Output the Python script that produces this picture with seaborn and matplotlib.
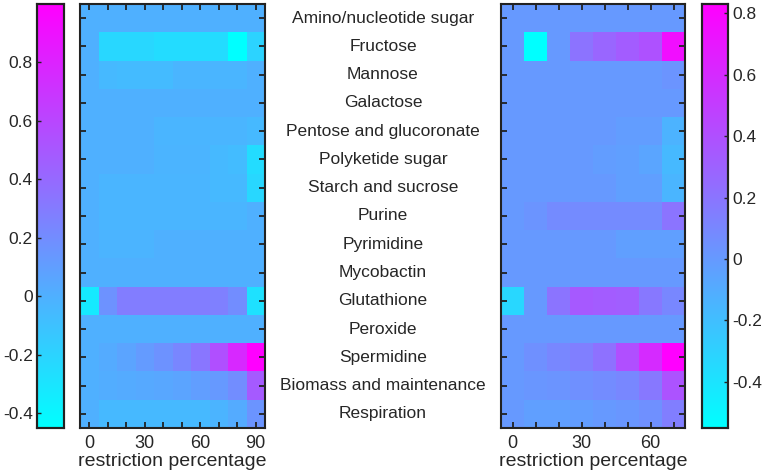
import numpy as np
import pandas as pd
import matplotlib
matplotlib.use("Agg")
import matplotlib.pyplot as plt
import matplotlib.transforms as mtransforms
import seaborn as sns

# --- Data ---
pathways = ["Amino/nucleotide sugar", "Fructose", "Mannose", "Galactose",
            "Pentose and glucoronate", "Polyketide sugar", "Starch and sucrose",
            "Purine", "Pyrimidine", "Mycobactin", "Glutathione", "Peroxide",
            "Spermidine", "Biomass and maintenance", "Respiration"]

left_pct = [0, 10, 20, 30, 40, 50, 60, 70, 80, 90]
right_pct = [0, 10, 20, 30, 40, 50, 60, 70]

left_values = [
    [0.00, 0.00, 0.00, 0.00, 0.00, 0.00, 0.00, 0.00, 0.00, 0.00],
    [0.00, -0.22, -0.22, -0.22, -0.25, -0.25, -0.25, -0.25, -0.45, -0.20],
    [0.00, -0.05, -0.06, -0.06, -0.06, -0.03, -0.03, -0.03, -0.03, 0.00],
    [0.00, 0.00, 0.00, 0.00, 0.00, 0.00, 0.00, 0.00, 0.00, 0.00],
    [0.00, 0.00, 0.00, 0.00, -0.03, -0.03, -0.03, -0.03, -0.03, -0.05],
    [0.00, 0.00, 0.00, 0.00, -0.02, -0.02, -0.02, -0.05, -0.07, -0.25],
    [0.00, -0.03, -0.03, -0.03, -0.03, -0.03, -0.03, -0.05, -0.05, -0.22],
    [0.00, -0.03, -0.03, -0.03, -0.03, -0.03, -0.03, -0.03, -0.03, 0.00],
    [0.00, -0.02, -0.02, -0.02, 0.00, 0.00, 0.00, 0.00, 0.00, 0.00],
    [0.00, 0.00, 0.00, 0.00, 0.00, 0.00, 0.00, 0.00, 0.00, 0.00],
    [-0.33, 0.17, 0.29, 0.29, 0.29, 0.29, 0.29, 0.27, 0.20, -0.28],
    [0.00, 0.00, 0.00, 0.00, 0.00, 0.00, 0.00, 0.00, 0.00, 0.00],
    [0.00, 0.03, 0.07, 0.12, 0.17, 0.24, 0.33, 0.55, 0.77, 1.00],
    [0.00, 0.02, 0.03, 0.04, 0.05, 0.07, 0.10, 0.13, 0.20, 0.49],
    [0.00, -0.05, -0.05, -0.05, -0.05, -0.05, -0.05, -0.02, 0.03, 0.16],
]

right_values = [
    [0.00, 0.00, 0.00, 0.00, 0.00, 0.00, 0.00, 0.00],
    [0.00, -0.55, 0.00, 0.21, 0.28, 0.33, 0.39, 0.75],
    [0.00, 0.00, 0.00, 0.00, 0.00, 0.00, 0.00, 0.03],
    [0.00, 0.00, 0.00, 0.00, 0.00, 0.00, 0.00, 0.00],
    [0.00, 0.00, 0.00, 0.00, 0.00, -0.02, -0.02, -0.14],
    [0.00, 0.00, 0.00, 0.00, -0.02, -0.03, -0.06, -0.17],
    [0.00, 0.00, 0.00, 0.00, 0.00, -0.03, -0.03, -0.15],
    [0.00, 0.03, 0.08, 0.08, 0.08, 0.08, 0.08, 0.20],
    [0.00, 0.00, 0.00, 0.00, 0.00, -0.03, -0.03, -0.03],
    [0.00, 0.00, 0.00, 0.00, 0.00, 0.00, 0.00, 0.00],
    [-0.33, 0.00, 0.20, 0.35, 0.33, 0.32, 0.18, 0.10],
    [0.00, 0.00, 0.00, 0.00, 0.00, 0.00, 0.00, 0.00],
    [0.00, 0.05, 0.10, 0.14, 0.22, 0.40, 0.60, 0.83],
    [0.00, 0.02, 0.03, 0.05, 0.07, 0.10, 0.18, 0.38],
    [0.00, -0.03, -0.03, -0.02, 0.00, 0.02, 0.05, 0.15],
]

cbar_ticks = [-0.4, -0.2, 0, 0.2, 0.4, 0.6, 0.8]
tick_labels = ["-0.4", "-0.2", "0", "0.2", "0.4", "0.6", "0.8"]

# --- Style ---
sns.set_style("white")
plt.rcParams["font.family"] = ["Liberation Sans", "DejaVu Sans"]
text_color = "#262626"
fs = 12.5
fs_label = 14

W, H = 765, 475
fig = plt.figure(figsize=(W / 100, H / 100), dpi=100)


def box(x0, x1, top=4, bottom=428):
    return [x0 / W, (H - bottom) / H, (x1 - x0) / W, (bottom - top) / H]


cax_l = fig.add_axes(box(37, 64))
ax_l = fig.add_axes(box(80, 265))
ax_r = fig.add_axes(box(501, 685))
cax_r = fig.add_axes(box(702, 728))

df_l = pd.DataFrame(left_values, index=pathways, columns=left_pct)
df_r = pd.DataFrame(right_values, index=pathways, columns=right_pct)

sns.heatmap(df_l, ax=ax_l, cmap="cool", vmin=-0.45, vmax=1.0, cbar_ax=cax_l)
sns.heatmap(df_r, ax=ax_r, cmap="cool", vmin=-0.55, vmax=0.83, cbar_ax=cax_r)

for ax, pct in [(ax_l, left_pct), (ax_r, right_pct)]:
    ax.set_axisbelow(False)
    ax.set_xticks(np.arange(len(pct)) + 0.5)
    ax.set_xticklabels([str(p) if p % 30 == 0 else "" for p in pct],
                       rotation=0, fontsize=13, color=text_color)
    ax.set_yticks(np.arange(len(pathways)) + 0.5)
    ax.set_yticklabels([])
    ax.tick_params(axis="both", direction="in", length=4, width=1.3,
                   top=True, bottom=True, left=True, right=True, color="#222222")
    ax.tick_params(axis="x", pad=5)
    ax.set_xlabel("restriction percentage", fontsize=fs_label, color=text_color, labelpad=1)
    ax.set_ylabel("")
    for s in ax.spines.values():
        s.set_visible(True)
        s.set_color("#222222")
        s.set_linewidth(1.5)

# pathway names centred between the two maps
trans = mtransforms.blended_transform_factory(fig.transFigure, ax_l.transData)
xc = (265 + 501) / 2 / W
for i, name in enumerate(pathways):
    fig.text(xc, i + 0.5, name, transform=trans, ha="center", va="center",
             fontsize=fs, color=text_color)

# colorbars
for cax, side in [(cax_l, "left"), (cax_r, "right")]:
    cax.set_axisbelow(False)
    cax.yaxis.set_ticks_position(side)
    cax.yaxis.set_label_position(side)
    cax.set_yticks(cbar_ticks)
    cax.set_yticklabels(tick_labels, fontsize=fs, color=text_color)
    cax.tick_params(axis="y", direction="in", length=3, width=1, color="#222222", pad=3)
    for s in cax.spines.values():
        s.set_visible(True)
        s.set_color("#222222")
        s.set_linewidth(1.5)

for ax in (ax_l, ax_r):
    cb = ax.collections[0].colorbar
    cb.outline.set_visible(True)
    cb.outline.set_linewidth(1.5)
    cb.outline.set_edgecolor("#222222")

fig.savefig("out.png", dpi=100)
